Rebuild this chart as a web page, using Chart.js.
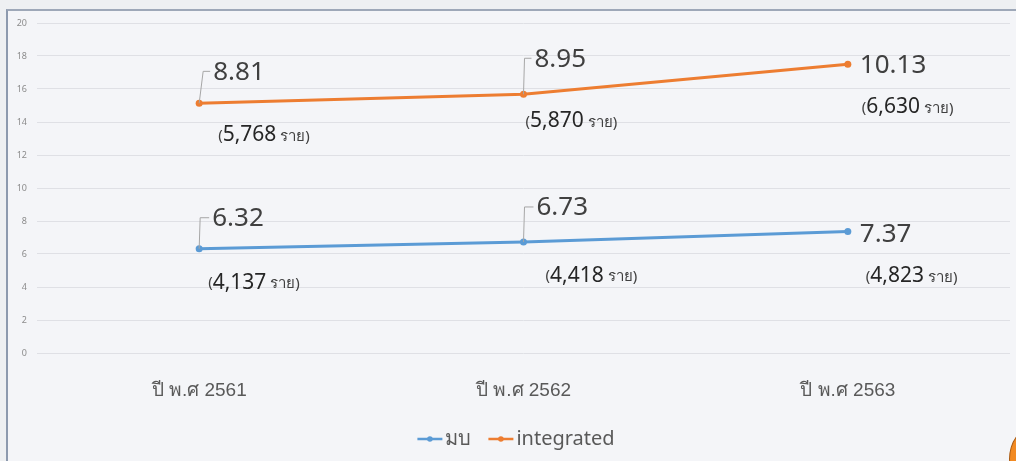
<!DOCTYPE html>
<html>
<head>
<meta charset="utf-8">
<script src="https://cdn.jsdelivr.net/npm/chart.js@4"></script>
<style>
  html, body { margin: 0; padding: 0; width: 1016px; height: 461px; overflow: hidden; background: #eef0f2; }
  #frame { position: absolute; left: 6px; top: 9px; width: 1030px; height: 470px; background: #f4f5f8;
           border-left: 2px solid #8d9aae; border-top: 2px solid #9ea8b8; box-sizing: border-box; }
  #wrap { position: absolute; left: 0; top: 0; width: 1016px; height: 461px; }
  #blob { position: absolute; left: 1009px; top: 428px; width: 44px; height: 60px; border-radius: 50%;
          background: #f28a22; border: 1px solid #a85a12; }
</style>
</head>
<body>
<div id="frame"></div>
<div id="wrap"><canvas id="c" width="1016" height="461"></canvas></div>
<div id="blob"></div>
<script>
const categories = ['ปี พ.ศ 2561', 'ปี พ.ศ 2562', 'ปี พ.ศ 2563'];
const seriesNames = ['มบ', 'integrated'];
const mbValues = [6.32, 6.73, 7.37];
const integratedValues = [8.81, 8.95, 10.13];
const mbCases = [4137, 4418, 4823];
const integratedCases = [5768, 5870, 6630];
const yTicks = [0, 2, 4, 6, 8, 10, 12, 14, 16, 18, 20];
const casesUnit = 'ราย';

const colors = ['#5b9bd5', '#ed7d31'];
const casesList = [mbCases, integratedCases];

// label placement relative to each point (style only)
const valueOffsets = [
  [[13, -30, true], [13, -34, true], [12, 3, false]],
  [[14, -31, true], [11, -35, true], [12, 1, false]]
];
const caseOffsets = [
  [[9, 34], [22, 34], [18, 45]],
  [[19, 32], [2, 27], [14, 43]]
];

const FONT = "'Noto Sans', 'DejaVu Sans', sans-serif";
const AXFONT = "'Liberation Sans', 'Noto Sans', sans-serif";

const labelPlugin = {
  id: 'labels',
  afterDatasetsDraw(chart) {
    const ctx = chart.ctx;
    chart.data.datasets.forEach((ds, di) => {
      const meta = chart.getDatasetMeta(di);
      meta.data.forEach((pt, i) => {
        const [dx, dy, leader] = valueOffsets[di][i];
        const tx = pt.x + dx, ty = pt.y + dy;
        ctx.save();
        if (leader) {
          ctx.strokeStyle = '#a6a6a6';
          ctx.lineWidth = 1;
          ctx.beginPath();
          ctx.moveTo(pt.x, pt.y);
          ctx.lineTo(pt.x + (di === 1 && i === 0 ? 4 : 1), ty - 1);
          ctx.lineTo(tx - 3, ty - 1);
          ctx.stroke();
        }
        ctx.font = '26px ' + FONT;
        ctx.fillStyle = '#404040';
        ctx.textBaseline = 'middle';
        ctx.textAlign = 'left';
        ctx.fillText(ds.data[i].toFixed(2), tx, ty);

        const [cx, cy] = caseOffsets[di][i];
        let x = pt.x + cx;
        const y = pt.y + cy;
        ctx.font = '15px ' + FONT;
        ctx.fillStyle = '#404040';
        ctx.fillText('(', x, y);
        x += ctx.measureText('(').width;
        ctx.font = '21px ' + FONT;
        ctx.fillStyle = '#262626';
        const num = casesList[di][i].toLocaleString('en-US');
        ctx.fillText(num, x, y);
        x += ctx.measureText(num).width + 4;
        ctx.font = '15px ' + FONT;
        ctx.fillStyle = '#404040';
        ctx.fillText(casesUnit + ')', x, y + 1);
        ctx.restore();
      });
    });
  },
  afterDraw(chart) {
    const ctx = chart.ctx;
    ctx.save();
    ctx.font = '20px ' + FONT;
    ctx.textBaseline = 'middle';
    const markerW = 25, gapMT = 3, gapItems = 17;
    let total = 0;
    const widths = chart.data.datasets.map(d => ctx.measureText(d.label).width);
    widths.forEach((w, i) => { total += markerW + gapMT + w + (i ? gapItems : 0); });
    let x = 516 - total / 2;
    const y = 439;
    chart.data.datasets.forEach((d, i) => {
      if (i) x += gapItems;
      ctx.strokeStyle = d.borderColor;
      ctx.lineWidth = 2.5;
      ctx.beginPath(); ctx.moveTo(x, y); ctx.lineTo(x + markerW, y); ctx.stroke();
      ctx.fillStyle = d.borderColor;
      ctx.beginPath(); ctx.arc(x + markerW / 2, y, 2.8, 0, Math.PI * 2); ctx.fill();
      x += markerW + gapMT;
      ctx.fillStyle = '#595959';
      ctx.fillText(d.label, x, y);
      x += widths[i];
    });
    ctx.restore();
  }
};

new Chart(document.getElementById('c'), {
  type: 'line',
  data: {
    labels: categories,
    datasets: [
      { label: seriesNames[0], data: mbValues, borderColor: colors[0], backgroundColor: colors[0],
        borderWidth: 3, pointRadius: 3.5, pointBackgroundColor: colors[0], pointBorderWidth: 0, tension: 0, fill: false },
      { label: seriesNames[1], data: integratedValues, borderColor: colors[1], backgroundColor: colors[1],
        borderWidth: 3, pointRadius: 3.5, pointBackgroundColor: colors[1], pointBorderWidth: 0, tension: 0, fill: false }
    ]
  },
  options: {
    responsive: false,
    animation: false,
    devicePixelRatio: 1,
    layout: { padding: { left: 0, right: 6, top: 23, bottom: 40 } },
    plugins: { legend: { display: false }, tooltip: { enabled: false } },
    scales: {
      x: {
        offset: true,
        grid: { display: false, drawTicks: false },
        border: { display: false },
        ticks: { color: '#595959', font: { size: 19, family: AXFONT }, padding: 26, maxRotation: 0 },
        afterFit(s) { s.height = 68; }
      },
      y: {
        stacked: true,
        min: 0, max: 20,
        afterBuildTicks(s) { s.ticks = yTicks.map(v => ({ value: v })); },
        grid: { color: '#dfe0e5', lineWidth: 1, drawTicks: false },
        border: { display: false },
        ticks: { color: '#8c8c8c', font: { size: 9, family: FONT }, padding: 10 },
        afterFit(s) { s.width = 37; }
      }
    }
  },
  plugins: [labelPlugin]
});
</script>
</body>
</html>
